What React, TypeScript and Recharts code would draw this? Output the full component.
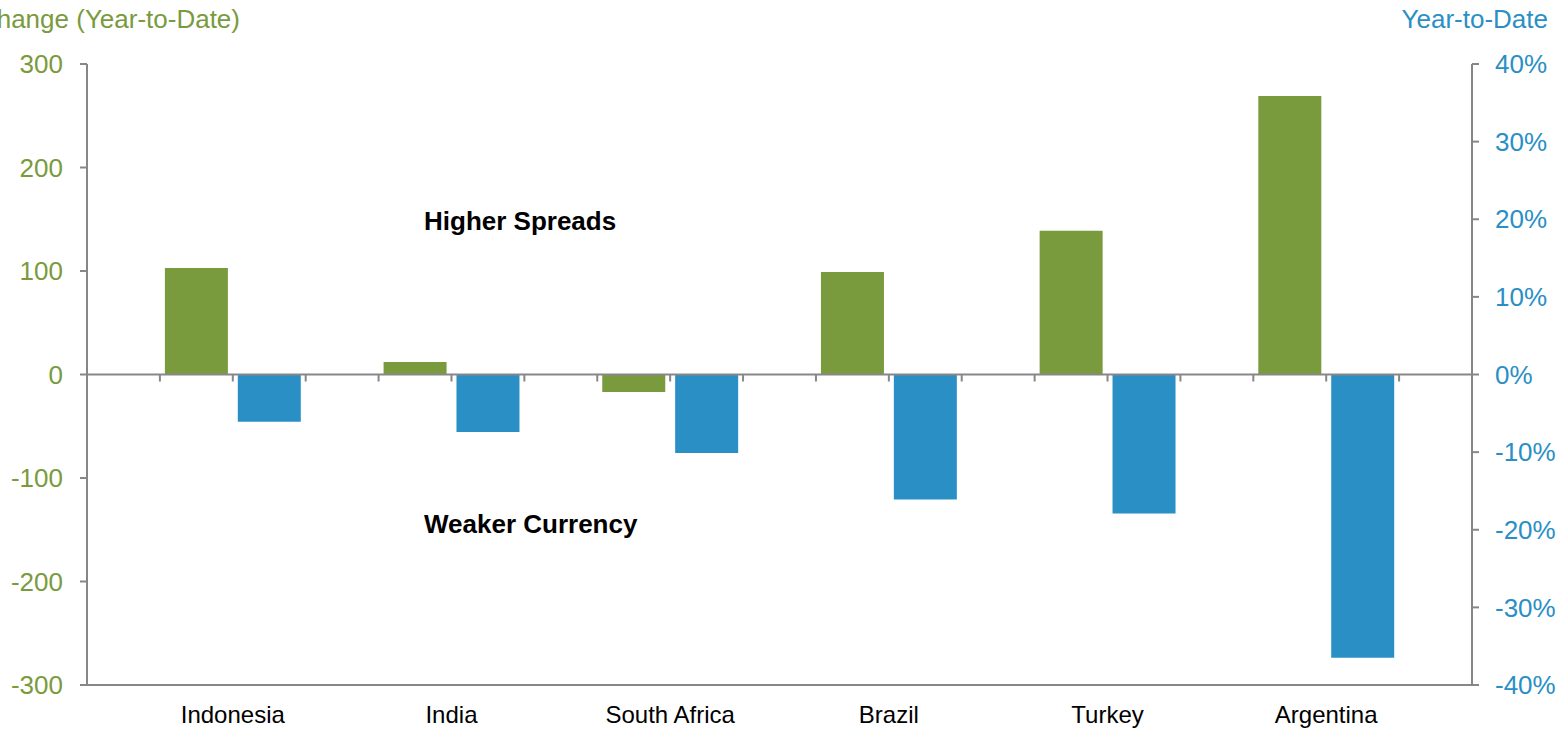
import React from 'react'
import {
  BarChart,
  Bar,
  XAxis,
  YAxis,
  ReferenceLine
} from 'recharts'

const countries = ['Indonesia', 'India', 'South Africa', 'Brazil', 'Turkey', 'Argentina']
// sovereign spread change, basis points (left axis)
const spreadChange = [103, 12, -17, 99, 139, 269]
// currency change vs USD, percent (right axis)
const currencyChange = [-6.1, -7.4, -10.1, -16.1, -17.9, -36.5]

const leftTicks = [-300, -200, -100, 0, 100, 200, 300]
const rightTicks = [-40, -30, -20, -10, 0, 10, 20, 30, 40]

const GREEN = '#7a9a3e'
const BLUE = '#2a8fc4'
const AXIS = '#878787'
const FONT = '"Liberation Sans", Arial, sans-serif'

const WIDTH = 1567
const HEIGHT = 731
const LEFT_W = 87
const RIGHT_W = 95
const TOP = 64
const BOTTOM_H = 46

// each country takes three slots: spread bar, currency bar, gap
type Row = { slot: string; spread?: number; currency?: number; label?: string }
const rows: Row[] = [{ slot: 'start' }]
countries.forEach((c, i) => {
  rows.push({ slot: c + '-spread', spread: spreadChange[i] })
  rows.push({ slot: c + '-fx', currency: currencyChange[i], label: c })
  rows.push({ slot: c + '-gap' })
})

const BAND = (WIDTH - LEFT_W - RIGHT_W) / rows.length

const CountryTick = ({ x, y, index }: any) => {
  const row = rows[index]
  if (!row || !row.label) return <g />
  return (
    <text
      x={x - BAND / 2}
      y={y + 30}
      textAnchor="middle"
      fill="#000"
      fontSize={24}
      fontFamily={FONT}
    >
      {row.label}
    </text>
  )
}

const ZeroLine = (props: any) => {
  const { x1, y1, x2, y2 } = props
  const n = rows.length
  const step = (x2 - x1) / n
  const marks = []
  for (let i = 1; i < n; i++) {
    const x = x1 + i * step
    marks.push(<line key={i} x1={x} y1={y1} x2={x} y2={y1 + 7} stroke={AXIS} strokeWidth={2} />)
  }
  return (
    <g>
      <line x1={x1} y1={y1} x2={x2} y2={y2} stroke={AXIS} strokeWidth={2} />
      {marks}
    </g>
  )
}

export default function App() {
  return (
    <div style={{ position: 'absolute', left: 0, top: 0, width: WIDTH, height: HEIGHT, background: '#fff' }}>
      <BarChart
        width={WIDTH}
        height={HEIGHT}
        data={rows}
        margin={{ top: TOP, right: 0, bottom: 0, left: 0 }}
      >
        <XAxis xAxisId="fx" dataKey="slot" hide height={0} />
        <XAxis
          xAxisId="main"
          dataKey="slot"
          height={BOTTOM_H}
          interval={0}
          tick={<CountryTick />}
          tickLine={false}
          axisLine={{ stroke: AXIS, strokeWidth: 2 }}
        />
        <YAxis
          yAxisId="left"
          width={LEFT_W}
          domain={[-300, 300]}
          ticks={leftTicks}
          interval={0}
          allowDataOverflow
          tickSize={7}
          tickMargin={17}
          tickLine={{ stroke: AXIS, strokeWidth: 2 }}
          axisLine={{ stroke: AXIS, strokeWidth: 2 }}
          tick={{ fill: GREEN, fontSize: 26, fontFamily: FONT }}
        />
        <YAxis
          yAxisId="right"
          orientation="right"
          width={RIGHT_W}
          domain={[-40, 40]}
          ticks={rightTicks}
          interval={0}
          allowDataOverflow
          tickFormatter={(v) => `${v}%`}
          tickSize={7}
          tickMargin={16}
          tickLine={{ stroke: AXIS, strokeWidth: 2 }}
          axisLine={{ stroke: AXIS, strokeWidth: 2 }}
          tick={{ fill: BLUE, fontSize: 26, fontFamily: FONT }}
        />
        <Bar
          dataKey="spread"
          xAxisId="main"
          yAxisId="left"
          fill={GREEN}
          barSize={63}
          isAnimationActive={false}
        />
        <Bar
          dataKey="currency"
          xAxisId="fx"
          yAxisId="right"
          fill={BLUE}
          barSize={63}
          isAnimationActive={false}
        />
        <ReferenceLine xAxisId="main" yAxisId="left" y={0} shape={<ZeroLine />} />
        <text x={240} y={28} textAnchor="end" fill={GREEN} fontSize={26} fontFamily={FONT}>
          Spread Change (Year-to-Date)
        </text>
        <text x={1548} y={28} textAnchor="end" fill={BLUE} fontSize={26} fontFamily={FONT}>
          Year-to-Date
        </text>
        <text x={424} y={230} fill="#000" fontSize={26} fontWeight="bold" fontFamily={FONT}>
          Higher Spreads
        </text>
        <text x={424} y={533} fill="#000" fontSize={26} fontWeight="bold" fontFamily={FONT}>
          Weaker Currency
        </text>
      </BarChart>
    </div>
  )
}
